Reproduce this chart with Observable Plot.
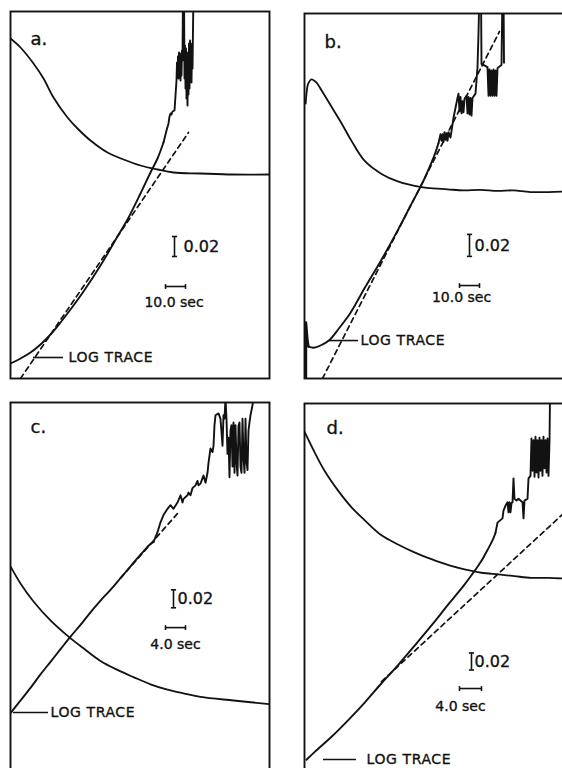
<!DOCTYPE html>
<html lang="en">
<head>
<meta charset="utf-8">
<title>Log traces a–d</title>
<script src="https://cdn.jsdelivr.net/npm/d3@7"></script>
<script src="https://cdn.jsdelivr.net/npm/@observablehq/plot@0.6"></script>
<style>
  html, body { margin: 0; padding: 0; background: #fff; }
  #figure { position: relative; width: 562px; height: 768px; overflow: hidden; background: #fff; }
  #figure svg { position: absolute; display: block; }
</style>
</head>
<body>
<div id="figure"></div>
<script>
// Recorder traces: [time (s), absorbance] pairs.

// ---- panel a ----
const decayA = [[0,0.340],[5,0.331],[11.5,0.315],[16.5,0.300],[21.5,0.281],[28.5,0.261],[33.5,0.250],[40,0.238],[48.5,0.226],[56.5,0.219],[65,0.213],[73.5,0.209],[81.5,0.206],[95,0.205],[111.5,0.204],[129.5,0.204]];
const traceA = [[0,0.015],[5,0.020],[10,0.026],[15,0.034],[20,0.044],[25,0.056],[30,0.069],[36.5,0.087],[45,0.113],[53.5,0.142],[58.5,0.159],[65,0.185],[70,0.206],[73.5,0.220],[76.5,0.236]];
const burstA = [[76.5,0.236],[78,0.248],[79,0.255],[79.5,0.262],[80,0.265],[80.5,0.264],[81,0.267],[82,0.268],[82.5,0.283],[83,0.298],[83.25,0.316],[83.5,0.302],[83.75,0.322],[84,0.300],[84.25,0.326],[84.5,0.305],[84.75,0.318],[85,0.298],[85.25,0.325],[85.5,0.303],[85.75,0.328],[86,0.318],[86.25,0.388],[86.75,0.388],[87,0.300],[87.25,0.333],[87.5,0.290],[87.75,0.330],[88,0.280],[88.25,0.326],[88.5,0.273],[88.75,0.322],[89,0.284],[89.25,0.335],[89.5,0.290],[89.75,0.338],[90,0.300],[90.25,0.330],[90.5,0.296],[90.75,0.335],[91,0.310],[91.5,0.388]];
const fitA = [[5,0],[89,0.246]];

// ---- panel b ----
const decayB = [[0.6,0.250],[1,0.259],[1.85,0.268],[3.5,0.272],[6,0.269],[8.5,0.262],[13.5,0.247],[18.5,0.232],[23.5,0.216],[30,0.198],[38.5,0.186],[47,0.179],[58.5,0.174],[63,0.173],[71.5,0.172],[79.5,0.171],[88,0.1715],[96.5,0.1705],[104.5,0.171],[113,0.1695],[131,0.170]];
const edgeB = [[0.75,0],[0.75,0.051],[1.5,0.0345],[2,0.029]];
const traceB = [[2,0.029],[4.5,0.028],[8,0.030],[12.5,0.035],[17,0.045],[22,0.057],[26,0.069],[30,0.082],[38.5,0.108],[47,0.136],[53,0.157],[58.5,0.176],[62,0.190],[65,0.203],[67,0.214]];
const burstB = [[67,0.214],[68,0.222],[68.5,0.216],[69,0.222],[69.5,0.215],[70,0.224],[70.5,0.217],[71,0.223],[71.5,0.216],[72,0.224],[73,0.219],[74.5,0.237],[76.5,0.255],[77,0.259],[77.5,0.243],[78,0.256],[78.5,0.241],[79,0.252],[79.5,0.242],[80,0.254],[81,0.257],[81.5,0.241],[82,0.256],[82.5,0.240],[83,0.255],[83.5,0.239],[84,0.255],[85.5,0.259],[86.5,0.283],[87,0.314],[87.5,0.353],[88.25,0.353],[88.5,0.286],[91.5,0.283],[92,0.257],[92.5,0.281],[93,0.257],[93.5,0.280],[94,0.257],[94.5,0.281],[95,0.257],[95.5,0.280],[96,0.257],[96.5,0.282],[97,0.283],[98.5,0.285],[99,0.353],[99.5,0.353],[99.75,0.287]];
const fitB = [[9,0],[97.5,0.3155]];

// ---- panel c ----
const decayC = [[0,0.229],[2,0.210],[4.6,0.190],[8,0.169],[11.6,0.151],[14.6,0.138],[18,0.124],[21.4,0.114],[24.6,0.106],[28,0.098],[31.4,0.092],[34.6,0.088],[38,0.084],[44.6,0.080],[51.8,0.076]];
const traceC = [[0,0.066],[2,0.080],[4,0.094],[6,0.109],[8,0.123],[10,0.137],[12,0.151],[14,0.164],[16,0.178],[18,0.191],[20,0.203],[22,0.216],[24,0.229],[26,0.242],[28,0.254],[28.6,0.256]];
const burstC = [[28.6,0.256],[29.4,0.267],[30,0.278],[30.6,0.286],[31.4,0.293],[32,0.297],[32.6,0.293],[33.4,0.300],[34,0.308],[34.4,0.300],[34.6,0.304],[35.4,0.308],[35.6,0.311],[36,0.308],[36.4,0.316],[37,0.319],[37.4,0.324],[37.6,0.319],[38,0.321],[38.6,0.330],[39,0.322],[39.4,0.333],[39.6,0.344],[40,0.360],[40.4,0.356],[40.6,0.363],[40.8,0.386],[41,0.397],[41.6,0.399],[42,0.393],[42.4,0.363],[42.6,0.397],[42.8,0.393],[43,0.416],[43.2,0.393],[43.4,0.354],[43.6,0.372],[43.8,0.328],[44,0.380],[44.2,0.386],[44.4,0.340],[44.6,0.389],[44.8,0.333],[45,0.386],[45.2,0.345],[45.4,0.330],[45.6,0.385],[45.8,0.389],[46,0.340],[46.2,0.333],[46.4,0.393],[46.6,0.350],[46.8,0.333],[47,0.393],[47.2,0.345],[47.4,0.336],[47.6,0.380],[47.8,0.389],[48,0.397],[48.4,0.408],[48.6,0.416]];
const fitC = [[22,0.216],[33.6,0.289]];

// ---- panel d ----
const decayD = [[0,0.401],[1.82,0.377],[3.64,0.355],[6.18,0.331],[8.55,0.312],[10.91,0.297],[14,0.279],[17.09,0.268],[20,0.259],[23.09,0.251],[26.18,0.244],[29.09,0.239],[32.18,0.235],[35.27,0.233],[38.18,0.231],[41.27,0.229],[44.36,0.229],[47.64,0.228]];
const traceD = [[0.36,0.015],[1.82,0.024],[4.91,0.042],[8,0.062],[10.91,0.082],[14,0.105],[17.09,0.127],[20,0.149],[23.09,0.173],[26.18,0.198],[29.09,0.221],[30.91,0.237],[32.18,0.249],[33.45,0.264],[34.18,0.273],[34.73,0.282]];
const burstD = [[34.73,0.282],[35.09,0.294],[36,0.299],[36.18,0.308],[36.55,0.314],[36.91,0.318],[37.09,0.306],[37.27,0.318],[37.45,0.306],[37.64,0.317],[37.82,0.318],[38,0.346],[38.18,0.322],[38.55,0.320],[38.91,0.322],[39.64,0.318],[39.82,0.299],[40,0.320],[40.55,0.322],[40.73,0.346],[41.09,0.349],[41.27,0.393],[41.45,0.355],[41.64,0.391],[41.82,0.348],[42,0.395],[42.18,0.353],[42.36,0.391],[42.55,0.347],[42.73,0.394],[42.91,0.355],[43.09,0.391],[43.27,0.349],[43.45,0.395],[43.64,0.358],[43.82,0.391],[44,0.353],[44.18,0.393],[44.36,0.349],[44.55,0.391],[44.64,0.444]];
const fitD = [[14,0.107],[47.64,0.308]];

// ---- labels and scale bars ----
const panelLetters = ["a.", "b.", "c.", "d."];
const timeBars = [10, 10, 4, 4];      // seconds
const absBar = 0.02;                   // absorbance
const traceLabel = "LOG TRACE";

const series = [
  {decay: decayA, trace: traceA, burst: burstA, fit: fitA, edge: null},
  {decay: decayB, trace: traceB, burst: burstB, fit: fitB, edge: edgeB},
  {decay: decayC, trace: traceC, burst: burstC, fit: fitC, edge: null},
  {decay: decayD, trace: traceD, burst: burstD, fit: fitD, edge: null}
];

// Page placement of each frame and where its annotations sit (data units).
const layout = [
  {left: 10, top: 11, width: 259, height: 367, pxPerSec: 2, pxPerUnit: 1000,
   letterAt: [10, 0.339], absBarAt: [82, 0.122], absLabelAt: [86.5, 0.132],
   secBarAt: [77.5, 0.092], secLabelAt: [81.75, 0.076], pointer: [11.5, 26.5, 0.021], traceLabelAt: [29, 0.021]},
  {left: 304, top: 13, width: 262, height: 365, pxPerSec: 2, pxPerUnit: 1100,
   letterAt: [10, 0.306], absBarAt: [82.5, 0.111], absLabelAt: [85, 0.121],
   secBarAt: [77.5, 0.0845], secLabelAt: [78.5, 0.0736], pointer: [12.5, 27, 0.0345], traceLabelAt: [28, 0.0345]},
  {left: 10, top: 402, width: 259, height: 370, pxPerSec: 5, pxPerUnit: 900,
   letterAt: [4, 0.384], absBarAt: [32.6, 0.183], absLabelAt: [33.4, 0.193],
   secBarAt: [31, 0.161], secLabelAt: [33, 0.142], pointer: [0.6, 7.6, 0.0667], traceLabelAt: [8, 0.0667]},
  {left: 304, top: 403, width: 262, height: 369, pxPerSec: 5.5, pxPerUnit: 850,
   letterAt: [4, 0.405], absBarAt: [30.36, 0.1206], absLabelAt: [30.9, 0.1306],
   secBarAt: [28.18, 0.0988], secLabelAt: [28.36, 0.0776], pointer: [3.45, 9.45, 0.0153], traceLabelAt: [11.27, 0.0153]}
];

const ink = "#121212";
const font = "DejaVu Sans, Verdana, sans-serif";
const X = d => d[0], Y = d => d[1];
const textStyle = {fontFamily: font, fill: ink, stroke: ink, strokeWidth: 0.35};

// short serif strokes for the scale bars
const hTick = {draw(ctx, size) { const w = Math.sqrt(size / Math.PI); ctx.moveTo(-w, 0); ctx.lineTo(w, 0); }};
const vTick = {draw(ctx, size) { const h = Math.sqrt(size / Math.PI); ctx.moveTo(0, -h); ctx.lineTo(0, h); }};

function drawPanel(i) {
  const p = layout[i], s = series[i];
  const m = 4;
  const marks = [
    Plot.frame({stroke: ink, strokeWidth: 1.9}),
    Plot.line(s.decay, {x: X, y: Y, curve: "catmull-rom", stroke: ink, strokeWidth: 1.8, clip: true}),
    Plot.line(s.fit, {x: X, y: Y, stroke: ink, strokeWidth: 1.7, strokeDasharray: "5,4", clip: true}),
    Plot.line(s.trace, {x: X, y: Y, curve: "catmull-rom", stroke: ink, strokeWidth: 1.9, clip: true}),
    Plot.line(s.burst, {x: X, y: Y, stroke: ink, strokeWidth: 1.9, strokeLinejoin: "round", clip: true})
  ];
  if (s.edge) marks.push(Plot.line(s.edge, {x: X, y: Y, stroke: ink, strokeWidth: 2.4, clip: true}));

  // absorbance bar
  const [bt, ba] = p.absBarAt;
  const absEnds = [[bt, ba], [bt, ba + absBar]];
  marks.push(Plot.ruleX([absEnds], {x: d => d[0][0], y1: d => d[0][1], y2: d => d[1][1], stroke: ink, strokeWidth: 1.6}));
  marks.push(Plot.dot(absEnds, {x: X, y: Y, symbol: hTick, r: 2.6, stroke: ink, fill: "none", strokeWidth: 1.6}));
  marks.push(Plot.text([p.absLabelAt], {x: X, y: Y, text: () => absBar.toFixed(2), textAnchor: "start",
    fontSize: 16, ...textStyle}));

  // time bar
  const [st, sa] = p.secBarAt;
  const secEnds = [[st, sa], [st + timeBars[i], sa]];
  marks.push(Plot.ruleY([secEnds], {y: d => d[0][1], x1: d => d[0][0], x2: d => d[1][0], stroke: ink, strokeWidth: 1.6}));
  marks.push(Plot.dot(secEnds, {x: X, y: Y, symbol: vTick, r: 2.4, stroke: ink, fill: "none", strokeWidth: 1.6}));
  marks.push(Plot.text([p.secLabelAt], {x: X, y: Y, text: () => `${timeBars[i].toFixed(1)} sec`, textAnchor: "middle",
    fontSize: 14, ...textStyle}));

  // panel letter
  marks.push(Plot.text([p.letterAt], {x: X, y: Y, text: () => panelLetters[i], textAnchor: "start",
    fontSize: 18, ...textStyle}));

  // trace label with pointer
  marks.push(Plot.ruleY([p.pointer], {y: d => d[2], x1: d => d[0], x2: d => d[1], stroke: ink, strokeWidth: 1.6}));
  marks.push(Plot.text([p.traceLabelAt], {x: X, y: Y, text: () => traceLabel, textAnchor: "start",
    fontSize: 14, ...textStyle}));

  const svg = Plot.plot({
    width: p.width + 2 * m,
    height: p.height + 2 * m,
    margin: m,
    x: {domain: [0, p.width / p.pxPerSec], axis: null},
    y: {domain: [0, p.height / p.pxPerUnit], axis: null},
    style: {background: "transparent", overflow: "visible"},
    marks
  });
  svg.style.left = `${p.left - m}px`;
  svg.style.top = `${p.top - m}px`;
  svg.querySelectorAll("text").forEach(t => {
    if (t.textContent === traceLabel) t.setAttribute("letter-spacing", "0.6");
  });
  return svg;
}

const figure = document.getElementById("figure");
layout.forEach((_, i) => figure.appendChild(drawPanel(i)));
</script>
</body>
</html>
